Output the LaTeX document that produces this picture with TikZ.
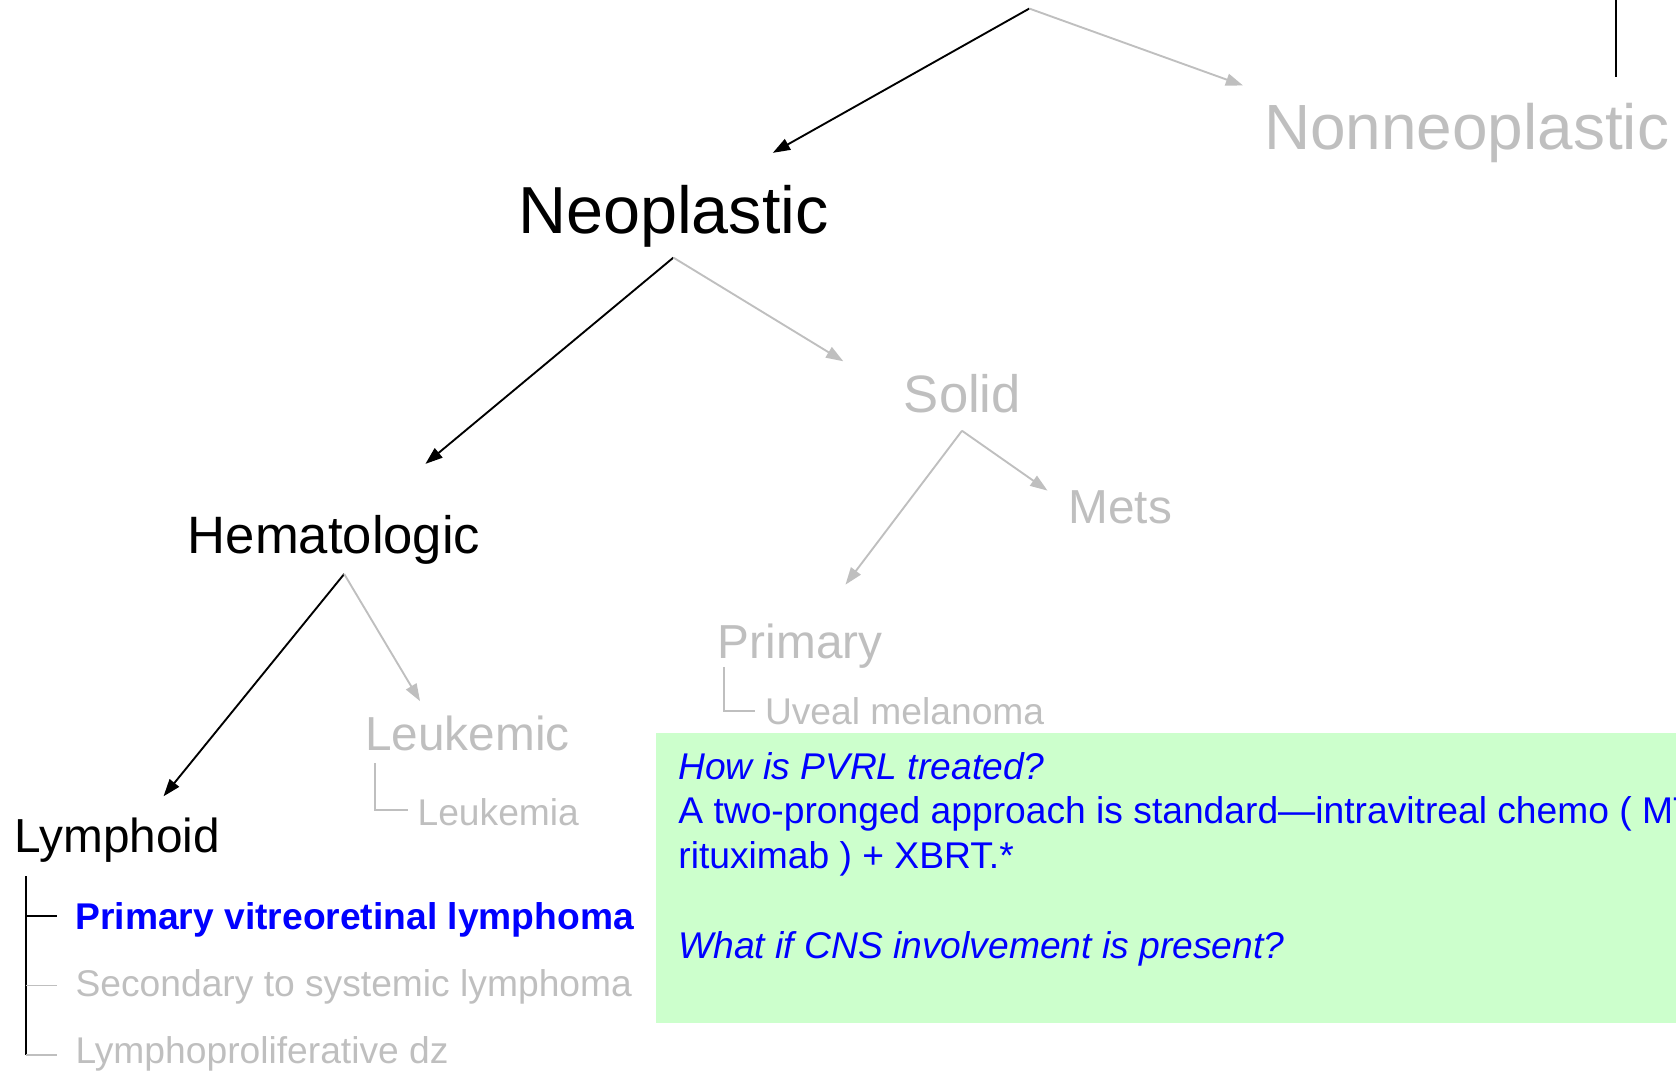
\documentclass[tikz,border=0pt]{standalone}
\usepackage{fontspec}
\setmainfont{Liberation Sans}
\usetikzlibrary{arrows.meta}
\definecolor{faded}{RGB}{191,191,191}
\definecolor{notegreen}{RGB}{204,255,204}
\begin{document}
\begin{tikzpicture}[x=0.01cm,y=-0.01cm,
    every node/.style={inner sep=0pt,anchor=base west},
    lvla/.style={font=\fontsize{17}{20}\selectfont},
    lvlb/.style={font=\fontsize{14}{17}\selectfont},
    lvlc/.style={font=\fontsize{12.7}{15}\selectfont},
    leaf/.style={font=\fontsize{9.9}{12}\selectfont},
    >={Triangle[length=4.6pt,width=3.2pt]}]
  \useasboundingbox (0,0) rectangle (1568,1003);
  \draw
    (1182,140) node[lvla,faded] (nonneo){Nonneoplastic}
    (484,218) node[lvla,font=\fontsize{17.7}{20}\selectfont] (neo){Neoplastic}
    (845,386) node[lvlb,faded] (solid){Solid}
    (999,490) node[lvlc,faded] (mets){Mets}
    (175,518) node[lvlb] (hema){Hematologic}
    (671,616) node[lvlc,faded] (prim){Primary}
    (341,702) node[lvlc,faded] (leukc){Leukemic}
    (13,798) node[lvlc] (lymph){Lymphoid}
    (715,678) node[leaf,faded] (uveal){Uveal melanoma}
    (390,772) node[leaf,faded] (leuka){Leukemia}
    (70,870) node[leaf,blue,font=\fontsize{9.9}{12}\selectfont\bfseries] (pvrl){Primary vitreoretinal lymphoma}
    (70,932) node[leaf,faded] (second){Secondary to systemic lymphoma}
    (70,995) node[leaf,faded] (lpd){Lymphoproliferative dz};
  \coordinate (root) at (963,8);
  \coordinate (neo-top) at (723,143);
  \coordinate (nonneo-top) at (1163,80);
  \coordinate (neo-bot) at (630,241);
  \coordinate (hema-top) at (398,434);
  \coordinate (solid-top) at (789,338);
  \coordinate (solid-bot) at (900,403);
  \coordinate (prim-top) at (791,547);
  \coordinate (mets-top) at (980,459);
  \coordinate (hema-bot) at (322,537);
  \coordinate (lymph-top) at (153,745);
  \coordinate (leukc-top) at (393,656);
  \begin{scope}[line width=0.5pt]
    \draw[->] (root) to (neo-top);
    \draw[->,faded] (root) to (nonneo-top);
    \draw[->] (neo-bot) to (hema-top);
    \draw[->,faded] (neo-bot) to (solid-top);
    \draw[->,faded] (solid-bot) to (prim-top);
    \draw[->,faded] (solid-bot) to (mets-top);
    \draw[->] (hema-bot) to (lymph-top);
    \draw[->,faded] (hema-bot) to (leukc-top);
    \draw (1512,0) to (1512,72);
    % tree lines
    \draw[faded] (677,624) |- (706,665);
    \draw[faded] (351,714) |- (382,758);
    \draw (24,820) to (24,987);
    \draw (24,857) to (53,857);
    \draw[faded] (24,922) to (53,922);
    \draw[faded] (24.5,987) to (53,987);
  \end{scope}
  % question box
  \begin{scope}
    \clip (0,0) rectangle (1568,1003);
    \fill[notegreen] (614,686) rectangle (1600,957);
    \node[blue,anchor=north west,align=left,
      font=\fontsize{9.9}{11.9}\selectfont] (note) at (634,703)
      {\textit{How is PVRL treated?}\\
       A two-pronged approach is standard---intravitreal chemo ( MT\\
       rituximab ) + XBRT.*\\[11.9pt]
       \textit{What if CNS involvement is present?}};
  \end{scope}
\end{tikzpicture}
\end{document}
